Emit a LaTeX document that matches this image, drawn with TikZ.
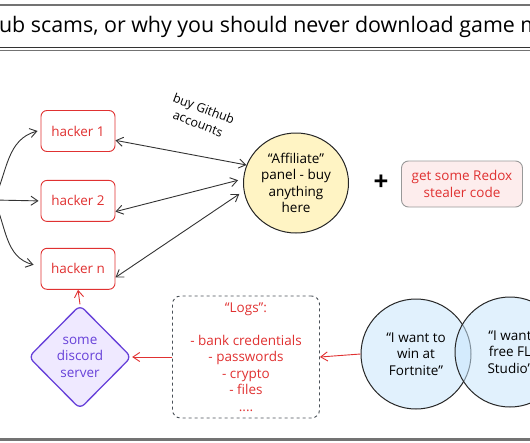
\documentclass[tikz,border=0pt]{standalone}
\usepackage{fontspec}
\setmainfont{Open Sans}
\usetikzlibrary{shapes.geometric,arrows.meta,positioning,calc}
\definecolor{exred}{HTML}{E03131}
\definecolor{exviolet}{HTML}{6741D9}
\definecolor{exviofill}{HTML}{EFE9FF}
\definecolor{exyellow}{HTML}{FFF4C4}
\definecolor{expink}{HTML}{FDEDED}
\definecolor{exblue}{HTML}{C9E6FC}
\definecolor{exgray}{HTML}{495057}

\begin{document}
\begin{tikzpicture}[
    x=1pt,y=-1pt,
    every node/.style={align=center,font=\fontsize{13.5}{16.5}\selectfont,inner sep=2pt},
    hacker/.style={draw=exred,text=exred,line width=0.9pt,rounded corners=6pt,minimum width=74pt,minimum height=41pt},
    bubble/.style={circle,draw=black!85,line width=1pt,fill=exblue,fill opacity=0.55,text opacity=1,minimum size=110pt,inner sep=0pt},
    arrow/.style={-{Straight Barb[length=2.4mm,width=3.2mm]},line width=0.9pt,draw=black!80},
    twoway/.style={arrow,{Straight Barb[length=2.4mm,width=3.2mm]}-{Straight Barb[length=2.4mm,width=3.2mm]}},
    redarrow/.style={arrow,draw=exred},
    rule/.style={draw=black!55,line width=1.8pt}
  ]
    \useasboundingbox (0,0) rectangle (530,442);
    \clip (0,0) rectangle (530,442);
    \node (title) [font=\fontsize{21.4}{24}\selectfont] at (267,27) {Github scams, or why you should never download game mods};
    \draw[rule] (-10,5) -- (540,5);
    \draw[draw=black!80,line width=0.8pt] (-10,47.5) -- (540,47.5);
    \draw[rule] (-10,50.5) -- (540,50.5);
    \draw[rule,line width=2.4pt] (-10,439.5) -- (540,439.5);

    \node (h1) [hacker] at (78,131) {hacker 1};
    \node (h2) [hacker,below=28pt of h1] {hacker 2};
    \node (hn) [hacker,below=26pt of h2] {hacker n};
    \coordinate (src) at (-6,200);
    \draw[arrow] (src) to[out=65,in=195] ([xshift=-3pt]h1.west);
    \draw[arrow] (src) -- ([xshift=-2pt]h2.west);
    \draw[arrow] (src) to[out=-65,in=165] ([xshift=-7pt,yshift=4pt]hn.west);

    \node (panel) [ellipse,draw=black!85,line width=1pt,fill=exyellow,minimum width=105pt,minimum height=100pt,inner sep=0pt] at (296,183) {``Affiliate''\\panel - buy\\anything\\here};
    \draw[twoway] (h1.-14) -- (panel.160);
    \draw[twoway] (h2.-16) -- ([xshift=-5pt]panel.177);
    \draw[twoway] (hn.-13) -- ([xshift=-5pt]panel.192);
    \node (buy) [rotate=-21,font=\fontsize{12.5}{16}\selectfont] at (201,116) {buy Github\\accounts};

    \node (plus) [font=\fontsize{26}{26}\selectfont\bfseries] at (381,183) {+};
    \node (redox) [draw=black!40,line width=0.9pt,fill=expink,text=exred,rounded corners=7pt,minimum width=121pt,minimum height=46pt] at (462,184) {get some Redox\\stealer code};

    \node (fort) [bubble] at (416,354) {``I want to\\win at\\Fortnite''};
    \node (flst) [bubble] at (510,352) {``I want\\free FL\\Studio''};
    \node (logs) [draw=exgray,dashed,line width=0.9pt,rounded corners=8pt,text=exred,minimum width=147pt,minimum height=122pt] at (246,357) {``Logs'':\\[16.5pt]- bank credentials\\- passwords\\- crypto\\- files\\....};
    \node (discord) [diamond,draw=exviolet,line width=1.3pt,fill=exviofill,text=exviolet,rounded corners=6pt,minimum width=103pt,minimum height=104pt,inner sep=0pt] at (80,357) {some\\discord\\server};

    \draw[redarrow] (fort.west) -- (logs.east);
    \draw[redarrow] (logs.west) -- (discord.east);
    \draw[redarrow] (discord.north) -- (hn.south);
\end{tikzpicture}
\end{document}
